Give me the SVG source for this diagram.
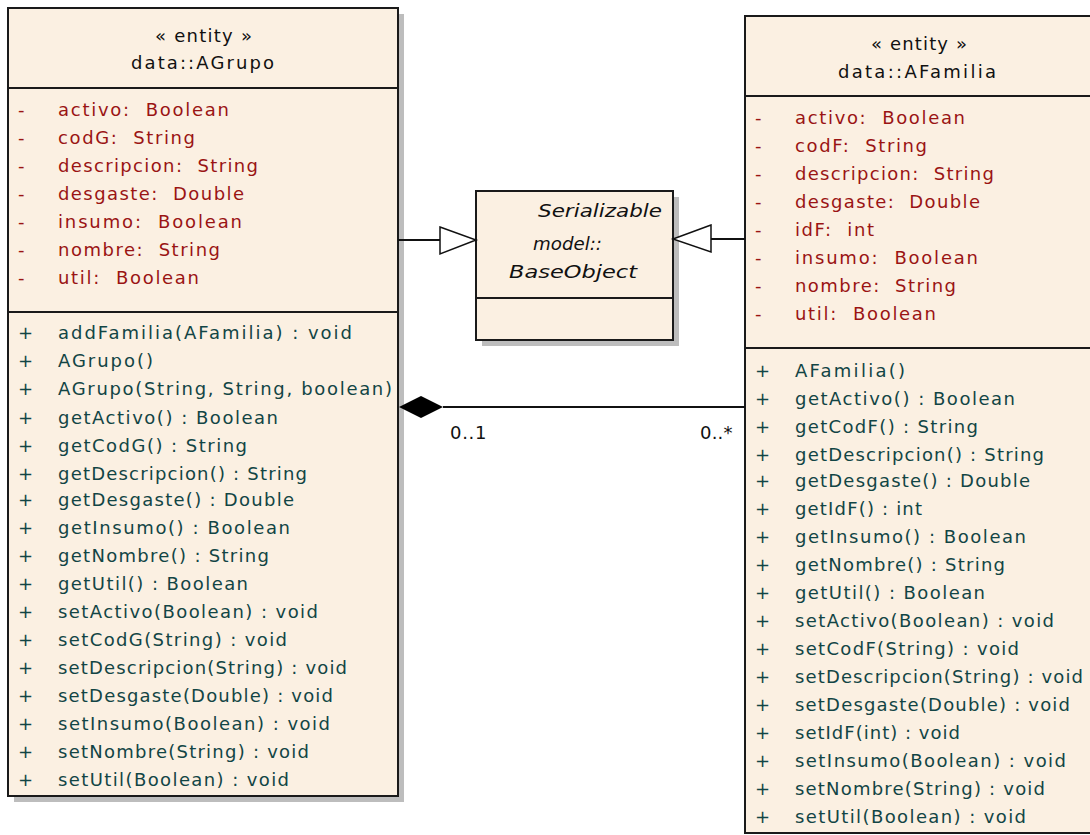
<svg xmlns="http://www.w3.org/2000/svg" width="1090" height="835" viewBox="0 0 1090 835">
<style>
.box{fill:#FBF0E2;stroke:#1a1a1a;stroke-width:2}
.shadow{fill:#BDBDBD}
.div{stroke:#1a1a1a;stroke-width:2}
text{font-family:"DejaVu Sans","Liberation Sans",sans-serif;font-size:18px;white-space:pre}
.hd{fill:#111}
.at{fill:#9A1414}
.op{fill:#124545}
.it{fill:#111;font-style:italic}
.line{stroke:#111;stroke-width:2;fill:none}
.lbl{fill:#111;letter-spacing:1.5px}
</style>
<g id="AGrupo">
<rect class="shadow" x="14" y="14" width="390" height="788"/>
<rect class="box" x="8" y="8" width="390" height="788"/>
<line class="div" x1="8" y1="88" x2="398" y2="88"/>
<line class="div" x1="8" y1="312" x2="398" y2="312"/>
<text class="hd" x="155" y="42" textLength="97">« entity »</text>
<text class="hd" x="131" y="69" textLength="143">data::AGrupo</text>
<g class="at" xml:space="preserve">
<text x="18" y="116">-</text><text x="58" y="116" textLength="171">activo:  Boolean</text>
<text x="18" y="144">-</text><text x="58" y="144" textLength="137">codG:  String</text>
<text x="18" y="172">-</text><text x="58" y="172" textLength="200">descripcion:  String</text>
<text x="18" y="200">-</text><text x="58" y="200" textLength="186">desgaste:  Double</text>
<text x="18" y="228">-</text><text x="58" y="228" textLength="184">insumo:  Boolean</text>
<text x="18" y="256">-</text><text x="58" y="256" textLength="162">nombre:  String</text>
<text x="18" y="284">-</text><text x="58" y="284" textLength="141">util:  Boolean</text>
</g>
<g class="op">
<text x="18" y="339">+</text><text x="58" y="339" textLength="294">addFamilia(AFamilia) : void</text>
<text x="18" y="367">+</text><text x="58" y="367" textLength="95">AGrupo()</text>
<text x="18" y="395">+</text><text x="58" y="395" textLength="334">AGrupo(String, String, boolean)</text>
<text x="18" y="424">+</text><text x="58" y="424" textLength="220">getActivo() : Boolean</text>
<text x="18" y="452">+</text><text x="58" y="452" textLength="189">getCodG() : String</text>
<text x="18" y="480">+</text><text x="58" y="480" textLength="249">getDescripcion() : String</text>
<text x="18" y="506">+</text><text x="58" y="506" textLength="236">getDesgaste() : Double</text>
<text x="18" y="534">+</text><text x="58" y="534" textLength="232">getInsumo() : Boolean</text>
<text x="18" y="562">+</text><text x="58" y="562" textLength="211">getNombre() : String</text>
<text x="18" y="590">+</text><text x="58" y="590" textLength="190">getUtil() : Boolean</text>
<text x="18" y="618">+</text><text x="58" y="618" textLength="260">setActivo(Boolean) : void</text>
<text x="18" y="646">+</text><text x="58" y="646" textLength="229">setCodG(String) : void</text>
<text x="18" y="674">+</text><text x="58" y="674" textLength="289">setDescripcion(String) : void</text>
<text x="18" y="702">+</text><text x="58" y="702" textLength="275">setDesgaste(Double) : void</text>
<text x="18" y="730">+</text><text x="58" y="730" textLength="272">setInsumo(Boolean) : void</text>
<text x="18" y="758">+</text><text x="58" y="758" textLength="251">setNombre(String) : void</text>
<text x="18" y="786">+</text><text x="58" y="786" textLength="231">setUtil(Boolean) : void</text>
</g>
</g>
<g id="BaseObject">
<rect class="shadow" x="482" y="197" width="197" height="149"/>
<rect class="box" x="476" y="191" width="197" height="149"/>
<line class="div" x1="476" y1="298" x2="673" y2="298"/>
<text class="it" x="538" y="217" textLength="124" lengthAdjust="spacingAndGlyphs">Serializable</text>
<text class="it" x="533" y="250" textLength="69" lengthAdjust="spacingAndGlyphs">model::</text>
<text class="it" x="509" y="278" textLength="128" lengthAdjust="spacingAndGlyphs">BaseObject</text>
</g>
<g id="AFamilia">
<rect class="box" x="745" y="16" width="360" height="817"/>
<line class="div" x1="745" y1="96" x2="1090" y2="96"/>
<line class="div" x1="745" y1="348" x2="1090" y2="348"/>
<text class="hd" x="871" y="50" textLength="96">« entity »</text>
<text class="hd" x="838" y="78" textLength="158">data::AFamilia</text>
<g class="at" xml:space="preserve">
<text x="755" y="124">-</text><text x="795" y="124" textLength="170">activo:  Boolean</text>
<text x="755" y="152">-</text><text x="795" y="152" textLength="132">codF:  String</text>
<text x="755" y="180">-</text><text x="795" y="180" textLength="199">descripcion:  String</text>
<text x="755" y="208">-</text><text x="795" y="208" textLength="185">desgaste:  Double</text>
<text x="755" y="236">-</text><text x="795" y="236" textLength="79">idF:  int</text>
<text x="755" y="264">-</text><text x="795" y="264" textLength="183">insumo:  Boolean</text>
<text x="755" y="292">-</text><text x="795" y="292" textLength="161">nombre:  String</text>
<text x="755" y="320">-</text><text x="795" y="320" textLength="141">util:  Boolean</text>
</g>
<g class="op">
<text x="755" y="377">+</text><text x="795" y="377" textLength="110">AFamilia()</text>
<text x="755" y="405">+</text><text x="795" y="405" textLength="220">getActivo() : Boolean</text>
<text x="755" y="433">+</text><text x="795" y="433" textLength="183">getCodF() : String</text>
<text x="755" y="461">+</text><text x="795" y="461" textLength="249">getDescripcion() : String</text>
<text x="755" y="487">+</text><text x="795" y="487" textLength="235">getDesgaste() : Double</text>
<text x="755" y="515">+</text><text x="795" y="515" textLength="127">getIdF() : int</text>
<text x="755" y="543">+</text><text x="795" y="543" textLength="231">getInsumo() : Boolean</text>
<text x="755" y="571">+</text><text x="795" y="571" textLength="210">getNombre() : String</text>
<text x="755" y="599">+</text><text x="795" y="599" textLength="190">getUtil() : Boolean</text>
<text x="755" y="627">+</text><text x="795" y="627" textLength="259">setActivo(Boolean) : void</text>
<text x="755" y="655">+</text><text x="795" y="655" textLength="224">setCodF(String) : void</text>
<text x="755" y="683">+</text><text x="795" y="683" textLength="288">setDescripcion(String) : void</text>
<text x="755" y="711">+</text><text x="795" y="711" textLength="275">setDesgaste(Double) : void</text>
<text x="755" y="739">+</text><text x="795" y="739" textLength="165">setIdF(int) : void</text>
<text x="755" y="767">+</text><text x="795" y="767" textLength="271">setInsumo(Boolean) : void</text>
<text x="755" y="795">+</text><text x="795" y="795" textLength="250">setNombre(String) : void</text>
<text x="755" y="823">+</text><text x="795" y="823" textLength="231">setUtil(Boolean) : void</text>
</g>
</g>
<g id="connectors">
<line class="line" x1="398" y1="240" x2="440" y2="240"/>
<polygon points="440,227 476,240 440,254" fill="#fff" stroke="#111" stroke-width="1.5"/>
<line class="line" x1="745" y1="239" x2="711" y2="239"/>
<polygon points="711,225 673,239 711,252" fill="#fff" stroke="#111" stroke-width="1.5"/>
<line class="line" x1="443" y1="407" x2="745" y2="407"/>
<polygon points="399,407 421,396 443,407 421,418" fill="#000"/>
<text class="lbl" x="450" y="439" textLength="38">0..1</text>
<text class="lbl" x="700" y="439" textLength="34">0..*</text>
</g>
</svg>
